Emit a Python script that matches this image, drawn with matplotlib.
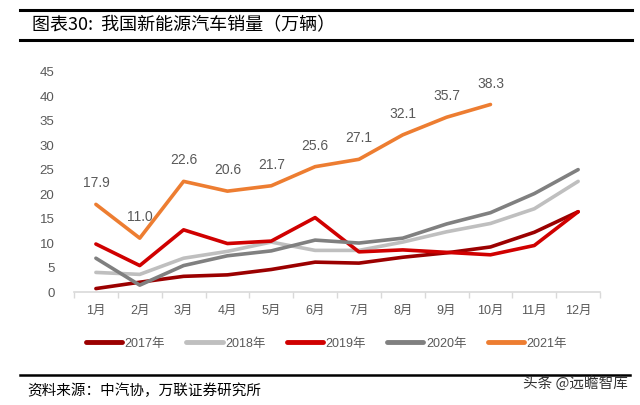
import matplotlib.pyplot as plt
from matplotlib.lines import Line2D

plt.rcParams['font.family'] = ['Liberation Sans', 'Noto Sans CJK SC', 'DejaVu Sans']

months = ["1月", "2月", "3月", "4月", "5月", "6月", "7月", "8月", "9月", "10月", "11月", "12月"]

# данные по годам (万辆)
sales_2017 = [0.7, 2.0, 3.2, 3.5, 4.6, 6.1, 5.9, 7.1, 8.0, 9.2, 12.2, 16.4]
sales_2018 = [4.0, 3.6, 6.9, 8.3, 10.2, 8.5, 8.5, 10.2, 12.3, 14.0, 17.0, 22.6]
sales_2019 = [9.8, 5.4, 12.7, 9.9, 10.4, 15.2, 8.2, 8.6, 8.1, 7.6, 9.5, 16.4]
sales_2020 = [6.9, 1.4, 5.4, 7.4, 8.4, 10.6, 10.0, 11.0, 13.9, 16.2, 20.1, 25.0]
sales_2021 = [17.9, 11.0, 22.6, 20.6, 21.7, 25.6, 27.1, 32.1, 35.7, 38.3]

years = ["2017年", "2018年", "2019年", "2020年", "2021年"]
series = [sales_2017, sales_2018, sales_2019, sales_2020, sales_2021]
colors = ["#9B0000", "#BFBFBF", "#D00000", "#808080", "#ED7D31"]

fig = plt.figure(figsize=(6.4, 4.05), dpi=100)
ax = fig.add_axes([0.1156, 0.279, 0.822, 0.544])

x = list(range(len(months)))
for name, vals, c in zip(years, series, colors):
    ax.plot(x[:len(vals)], vals, color=c, lw=2.6, label=name, solid_capstyle="round")

# подписи значений для 2021
for i, v in enumerate(sales_2021):
    ax.annotate(f"{v:.1f}", (i, v), xytext=(0, 10), textcoords="offset points",
                ha="center", va="bottom", fontsize=10, color="#595959")

ax.set_xlim(-0.5, 11.5)
ax.set_ylim(0, 45)
ax.set_yticks(range(0, 46, 5))
ax.set_xticks([i - 0.5 for i in range(13)], minor=False)
ax.set_xticklabels([])
ax.set_xticks(x, minor=True)
ax.set_xticklabels(months, minor=True)
ax.tick_params(axis="x", which="major", length=4, color="#D9D9D9", width=1)
ax.tick_params(axis="x", which="minor", length=0, pad=9, labelsize=9, labelcolor="#595959")
ax.tick_params(axis="y", length=0, pad=14, labelsize=9.5, labelcolor="#595959")
for s in ["top", "right", "left"]:
    ax.spines[s].set_visible(False)
ax.spines["bottom"].set_color("#D9D9D9")
ax.spines["bottom"].set_linewidth(1.2)

leg = fig.legend(loc="center", bbox_to_anchor=(0.51, 0.151), ncol=5, frameon=False,
                 fontsize=9, handlelength=2.9, handletextpad=0.2, columnspacing=1.7)
for t in leg.get_texts():
    t.set_color("#595959")
for h in leg.get_lines():
    h.set_linewidth(3.5)

# рамка заголовка и подвал
fig.add_artist(Line2D([20 / 640, 632 / 640], [1 - 10 / 405, 1 - 10 / 405], color="black", lw=2.2))
fig.add_artist(Line2D([20 / 640, 632 / 640], [1 - 40 / 405, 1 - 40 / 405], color="black", lw=2.2))
fig.text(32 / 640, 1 - 25 / 405, "图表30:  我国新能源汽车销量（万辆）", fontsize=13,
         va="center", ha="left", family=["Noto Sans CJK SC", "DejaVu Sans"])

fig.add_artist(Line2D([20 / 640, 630 / 640], [1 - 375 / 405, 1 - 375 / 405], color="black", lw=1.8))
fig.text(27 / 640, 1 - 391 / 405, "资料来源：中汽协，万联证券研究所", fontsize=10.5, style="italic",
         va="center", ha="left", family=["Noto Sans CJK SC", "DejaVu Sans"])
fig.text(628 / 640, 1 - 383 / 405, "头条 @远瞻智库", fontsize=10.5, color="#333333",
         va="center", ha="right", family=["Noto Sans CJK SC", "DejaVu Sans"])

fig.savefig("out.png", dpi=100)
